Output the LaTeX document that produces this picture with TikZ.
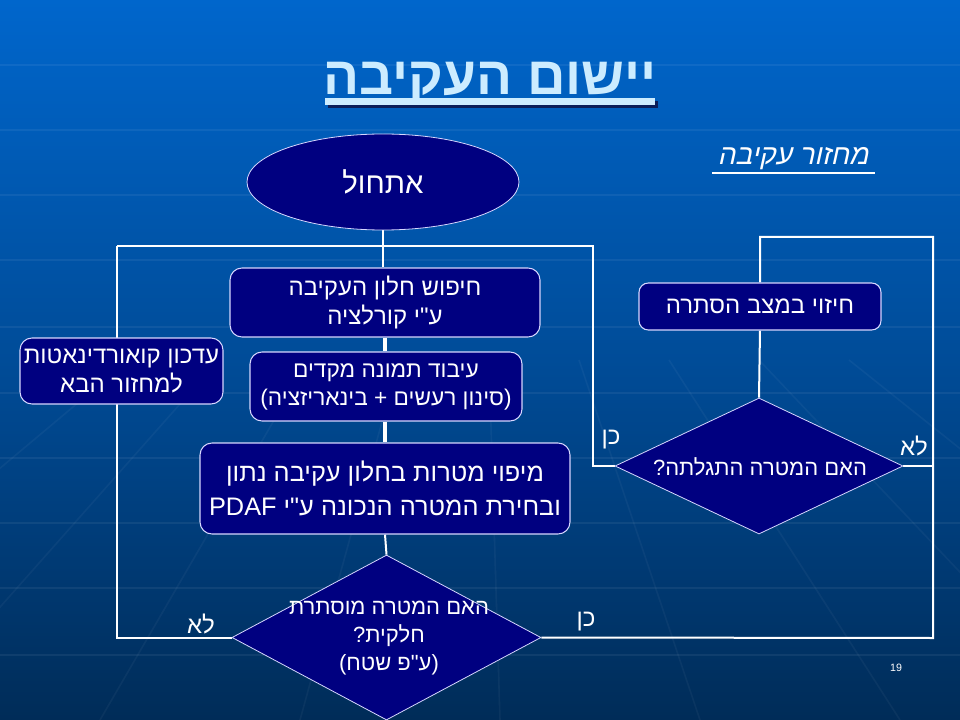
\documentclass[tikz,border=0pt]{standalone}
\usepackage{fontspec}
\setmainfont{Liberation Sans}
\newfontfamily\heb[Script=Hebrew]{Liberation Sans}
\newfontfamily\hebbf[Script=Hebrew]{Liberation Sans Bold}
\newfontfamily\hebit[Script=Hebrew,FakeSlant=0.22]{Liberation Sans}
\TeXXeTstate=1
\newcommand\rtl[1]{\beginR #1\endR}
\usetikzlibrary{shapes.geometric}
\pgfdeclarelayer{back}
\pgfdeclarelayer{lines}
\pgfsetlayers{back,lines,main}
\definecolor{navy}{RGB}{0,0,128}
\definecolor{bgtop}{RGB}{0,102,204}
\definecolor{bgmid}{RGB}{0,76,152}
\definecolor{bgbot}{RGB}{0,44,88}
\definecolor{titlec}{RGB}{204,236,255}
\definecolor{shadowc}{RGB}{10,30,90}
\definecolor{edgec}{RGB}{215,215,255}
\tikzset{
  stepbox/.style={rectangle, rounded corners=9pt, fill=navy, draw=edgec, line width=0.8pt,
    text=white, align=center, font=\heb\fontsize{18}{22}\selectfont, inner sep=0pt},
  decision/.style={diamond, fill=navy, draw=edgec, line width=0.6pt, inner sep=0pt},
  dtext/.style={text=white, align=center, font=\heb\fontsize{16.5}{21}\selectfont},
  conn/.style={draw=white, line width=1.5pt},
  thickconn/.style={draw=white, line width=3pt},
  lbl/.style={text=white, font=\heb\fontsize{18}{20}\selectfont},
  bgline/.style={draw=white, opacity=0.06, line width=2pt}
}
\begin{document}
\begin{tikzpicture}[x=0.75pt,y=-0.75pt]
\useasboundingbox (0,0) rectangle (960,720);
\begin{pgfonlayer}{back}
  \begin{scope}
  \clip (0,0) rectangle (960,720);
  \shade[top color=bgtop, bottom color=bgbot, middle color=bgmid] (0,0) rectangle (960,720);
  \foreach \yy in {65,130,195,260,327,393,458,523,588,655}
    \draw[bgline] (0,\yy) -- (960,\yy);
  \foreach \xx in {-300,-100,100,300,500,700,900,1100,1300}
    \draw[draw=white, opacity=0.04, line width=1.2pt] (480+0.45*\xx-0.45*480,360) -- (\xx,720);
  \end{scope}
\end{pgfonlayer}

% title
\fill[shadowc] (328,101) rectangle (658,108);
\node[text=titlec, font=\hebbf\fontsize{40}{44}\selectfont] (title) at (490,83) {\rtl{יישום העקיבה}};
\fill[titlec] (325,98) rectangle (655,105);

% cycle caption
\node[text=white, font=\hebit\fontsize{21}{24}\selectfont] (cap) at (793,159) {\rtl{מחזור עקיבה}};
\fill[white] (712,172.5) rectangle (875,174);

% nodes
\node[ellipse, fill=navy, draw=edgec, line width=0.6pt, minimum width=204pt, minimum height=72pt,
  text=white, font=\heb\fontsize{22}{26}\selectfont, inner sep=0pt] (start) at (383,182) {\rtl{אתחול}};
\node[stepbox, minimum width=232.5pt, minimum height=51.75pt] (b1) at (385,302.5)
  {\rtl{חיפוש חלון העקיבה}\\\rtl{ע"י קורלציה}};
\node[stepbox, minimum width=204pt, minimum height=51.75pt, font=\heb\fontsize{17}{21}\selectfont] (b2) at (386,386.5)
  {\rtl{עיבוד תמונה מקדים}\\\rtl{(סינון רעשים + בינאריזציה)}};
\node[stepbox, minimum width=277.5pt, minimum height=68.25pt, font=\heb\fontsize{19}{25}\selectfont] (b3) at (385,488.5)
  {\rtl{מיפוי מטרות בחלון עקיבה נתון}\\\rtl{ובחירת המטרה הנכונה ע"י \beginL PDAF\endL}};
\node[stepbox, minimum width=152.25pt, minimum height=49.5pt] (upd) at (121.5,371)
  {\rtl{עדכון קואורדינאטות}\\\rtl{למחזור הבא}};
\node[decision, minimum width=231.75pt, minimum height=123.75pt] (d1) at (386.5,637.5) {};
\node[dtext] (d1t) at (389,638) {\rtl{האם המטרה מוסתרת}\\\rtl{חלקית?}\\\rtl{(ע"פ שטח)}};
\node[stepbox, minimum width=181.5pt, minimum height=35.25pt, rounded corners=7pt] (hid) at (760,306.5)
  {\rtl{חיזוי במצב הסתרה}};
\node[decision, minimum width=216pt, minimum height=102pt] (d2) at (759,466) {};
\node[dtext] (d2t) at (760,467) {\rtl{האם המטרה התגלתה?}};

% coordinates
\coordinate (tl) at (117,246);
\coordinate (tr) at (593,246);
\coordinate (rt) at (933,237);
\coordinate (rb) at (933,638);

% connectors
\begin{pgfonlayer}{lines}
  \draw[conn] (start.south) -- (start.south |- b1.north);
  \draw[conn] (tl) -- (tr) -- (tr |- d2.west) -- (d2.west);
  \draw[conn] (tl) -- (tl |- d1.west) -- (d1.west);
  \draw[conn] (d1.east) -- (rb) -- (rt) -- (hid.north |- rt) -- (hid.north);
  \draw[conn] (d2.east) -- (d2.east -| rb);
  \draw[conn] (hid.south) -- (d2.north);
  \draw[thickconn] (b1.south) -- (b2.north -| b1.south);
  \draw[thickconn] (b2.south -| b1.south) -- (b3.north -| b1.south);
  \draw[conn] (b3.south) -- (d1.north);
\end{pgfonlayer}

% branch labels
\node[lbl] (l1) at (611,440) {\rtl{כן}};
\node[lbl] (l2) at (914,446) {\rtl{לא}};
\node[lbl] (l3) at (201,624) {\rtl{לא}};
\node[lbl] (l4) at (586,622) {\rtl{כן}};
\node[text=white, font=\fontsize{8}{10}\selectfont] (pg) at (896,668) {19};
\end{tikzpicture}
\end{document}
